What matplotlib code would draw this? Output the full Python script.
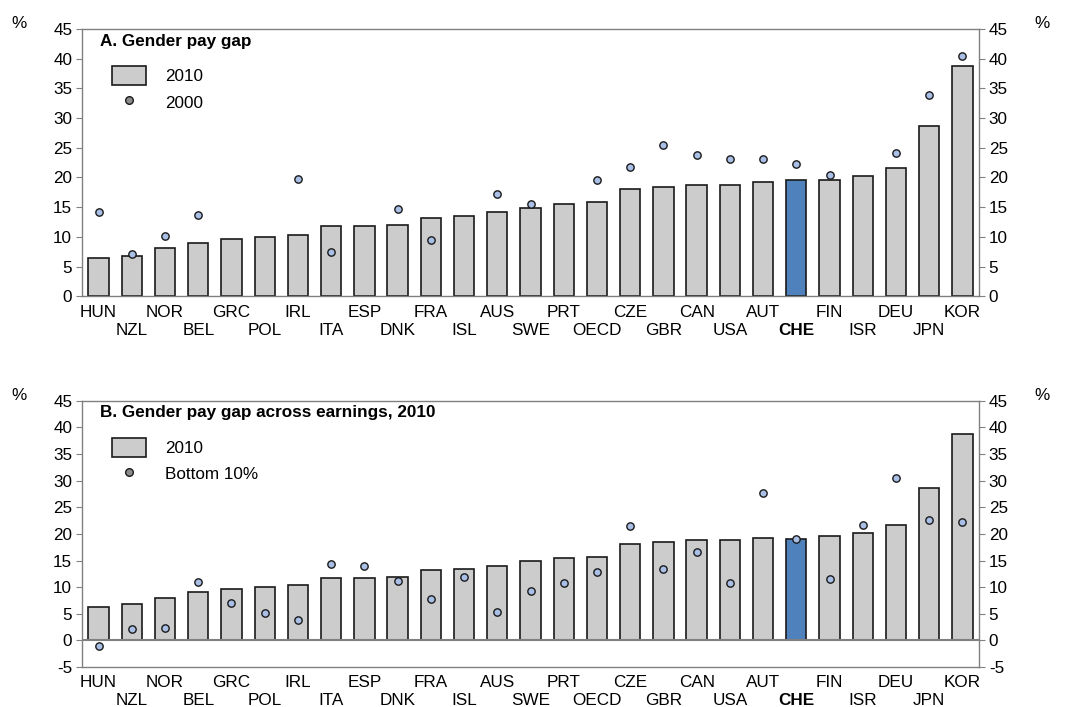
import numpy as np
import matplotlib.pyplot as plt
from matplotlib.patches import Patch
from matplotlib.lines import Line2D

plt.rcParams['font.family'] = ['Liberation Sans', 'DejaVu Sans']
plt.rcParams['axes.unicode_minus'] = False

countries = ["HUN", "NZL", "NOR", "BEL", "GRC", "POL", "IRL", "ITA", "ESP", "DNK", "FRA", "ISL", "AUS",
             "SWE", "PRT", "OECD", "CZE", "GBR", "CAN", "USA", "AUT", "CHE", "FIN", "ISR", "DEU", "JPN", "KOR"]

gap_2010_a = [6.4, 6.8, 8.1, 8.9, 9.6, 10.0, 10.3, 11.75, 11.9, 12.0, 13.2, 13.5, 14.1,
              14.9, 15.5, 15.9, 18.0, 18.4, 18.8, 18.8, 19.3, 19.5, 19.6, 20.3, 21.6, 28.7, 38.8]
gap_2000 = [14.1, 7.1, 10.2, 13.6, np.nan, np.nan, 19.7, 7.5, np.nan, 14.7, 9.5, np.nan, 17.2,
            15.5, np.nan, 19.5, 21.8, 25.5, 23.8, 23.1, 23.1, 22.2, 20.4, np.nan, 24.2, 33.9, 40.4]

gap_2010_b = [6.3, 6.8, 8.0, 9.0, 9.6, 10.0, 10.4, 11.7, 11.8, 12.0, 13.2, 13.4, 14.0,
              15.0, 15.5, 15.7, 18.1, 18.5, 18.8, 18.8, 19.3, 19.0, 19.6, 20.2, 21.6, 28.7, 38.8]
gap_bottom10 = [-1.1, 2.1, 2.3, 11.0, 7.0, 5.1, 3.9, 14.3, 14.0, 11.1, 7.7, 11.9, 5.4,
                9.3, 10.7, 12.8, 21.4, 13.5, 16.6, 10.8, 27.6, 19.0, 11.5, 21.7, 30.6, 22.6, 22.2]

bar_grey = "#cccccc"
bar_blue = "#4f81bd"
dot_blue = "#a9bfe6"
spine_col = "#808080"
fs = 12.3

fig = plt.figure(figsize=(10.7, 7.07), dpi=100)
ax_a = fig.add_axes([0.0766, 0.581, 0.8384, 0.378])
ax_b = fig.add_axes([0.0766, 0.0566, 0.8384, 0.3764])

x = np.arange(len(countries))


def draw_panel(ax, bars, dots, title, dot_label, ylo):
    colors = [bar_blue if c == "CHE" else bar_grey for c in countries]
    ax.bar(x, bars, width=0.61, color=colors, edgecolor="#1a1a1a", linewidth=1.2, zorder=2)
    ax.scatter(x, dots, s=28, color=dot_blue, edgecolor="#1a1a1a", linewidth=1.0, zorder=3)
    ax.set_xlim(-0.5, len(countries) - 0.5)
    ax.set_ylim(ylo, 45)
    ax.set_yticks(np.arange(ylo, 46, 5))
    # two rows of country labels: even ones on major ticks, odd ones on minor ticks
    ax.set_xticks(x[::2])
    ax.set_xticklabels(countries[::2], fontsize=fs)
    ax.set_xticks(x[1::2], minor=True)
    ax.set_xticklabels(countries[1::2], minor=True, fontsize=fs)
    for t in ax.get_xticklabels() + ax.get_xticklabels(minor=True):
        if t.get_text() == "CHE":
            t.set_fontweight("bold")
    ax.tick_params(axis="x", which="major", length=0, pad=6)
    ax.tick_params(axis="x", which="minor", length=0, pad=19)
    ax.tick_params(axis="y", labelsize=fs, length=4, color=spine_col, direction="out",
                   left=True, right=True, labelleft=True, labelright=True, pad=3)
    for s in ax.spines.values():
        s.set_color(spine_col)
        s.set_linewidth(1.0)
    if ylo < 0:
        ax.axhline(0, color=spine_col, linewidth=1.5, zorder=2.5)
    ax.text(0.02, 0.955, title, transform=ax.transAxes, fontsize=fs, fontweight="bold",
            va="center", ha="left")
    handles = [Patch(facecolor=bar_grey, edgecolor="#1a1a1a", linewidth=1.2),
               Line2D([], [], marker="o", linestyle="none", markersize=5.5,
                      markerfacecolor="#8c8c8c", markeredgecolor="#1a1a1a")]
    ax.legend(handles, ["2010", dot_label], loc="upper left", bbox_to_anchor=(0.02, 0.905),
              frameon=False, fontsize=fs, handlelength=2.0, handleheight=1.3,
              handletextpad=1.1, labelspacing=0.45, borderpad=0.2)
    ax.text(-0.07, 1.02, "%", transform=ax.transAxes, fontsize=fs, ha="center", va="center")
    ax.text(1.07, 1.02, "%", transform=ax.transAxes, fontsize=fs, ha="center", va="center")


draw_panel(ax_a, gap_2010_a, gap_2000, "A. Gender pay gap", "2000", 0)
draw_panel(ax_b, gap_2010_b, gap_bottom10, "B. Gender pay gap across earnings, 2010", "Bottom 10%", -5)

fig.savefig("out.png", dpi=100)
